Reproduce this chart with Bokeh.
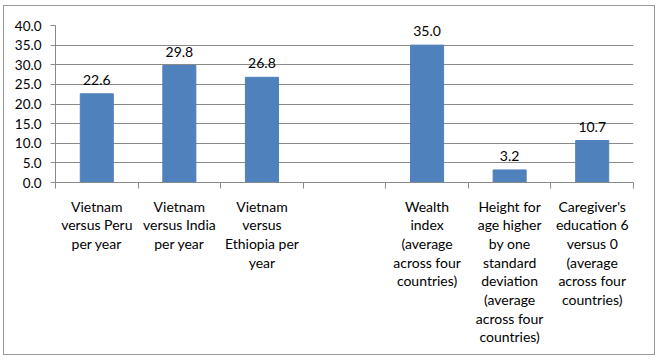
from bokeh.plotting import figure
from bokeh.models import Range1d, FixedTicker, NumeralTickFormatter, ColumnDataSource
from bokeh.embed import file_html
from bokeh.resources import INLINE
from bokeh.core.properties import value

categories = [
    "Vietnam\nversus Peru\nper year",
    "Vietnam\nversus India\nper year",
    "Vietnam\nversus\nEthiopia per\nyear",
    "",
    "Wealth\nindex\n(average\nacross four\ncountries)",
    "Height for\nage higher\nby one\nstandard\ndeviation\n(average\nacross four\ncountries)",
    "Caregiver's\neducation 6\nversus 0\n(average\nacross four\ncountries)",
]
values = [22.6, 29.8, 26.8, None, 35.0, 3.2, 10.7]
y_ticks = [0, 5, 10, 15, 20, 25, 30, 35, 40]

FONT = "Lato"
GRID = "#8a8a8a"
BAR = "#4F81BD"
TXT = "#000000"

centres = [i + 0.5 for i in range(len(categories))]
xs = [c for c, v in zip(centres, values) if v is not None]
tops = [v for v in values if v is not None]
labels = ["%.1f" % v for v in tops]
src = ColumnDataSource(dict(x=xs, top=tops, label=labels))

p = figure(frame_width=578, frame_height=157, output_backend="svg", toolbar_location=None,
           x_range=Range1d(0, len(categories)), y_range=Range1d(0, 40),
           min_border_left=51, min_border_right=21, min_border_top=19, min_border_bottom=172)
p.styles = {"border": "1px solid #9a9a9a", "margin-left": "3px", "margin-top": "5px"}
p.outline_line_color = None
p.background_fill_color = "white"
p.border_fill_color = "white"

p.vbar(x="x", top="top", width=0.4, source=src, fill_color=BAR, line_color=BAR)
p.text(x="x", y="top", text="label", source=src, text_align="center", text_baseline="bottom",
       y_offset=-9, text_font=value(FONT), text_font_size="14px", text_color=TXT)

# x axis
xa = p.xaxis[0]
xa.ticker = FixedTicker(ticks=centres, minor_ticks=list(range(len(categories) + 1)))
xa.major_label_overrides = {c: lab for c, lab in zip(centres, categories)}
xa.major_tick_line_color = None
xa.major_tick_out = 0
xa.major_tick_in = 0
xa.minor_tick_line_color = GRID
xa.minor_tick_out = 6
xa.minor_tick_in = 0
xa.axis_line_color = GRID
xa.major_label_text_font = FONT
xa.major_label_text_font_size = "14px"
xa.major_label_text_color = TXT
xa.major_label_text_line_height = 1.1
xa.major_label_standoff = 9
xa.major_label_orientation = "horizontal"

ya = p.yaxis[0]
ya.ticker = FixedTicker(ticks=y_ticks)
ya.formatter = NumeralTickFormatter(format="0.0")
ya.major_tick_line_color = GRID
ya.major_tick_out = 5
ya.major_tick_in = 0
ya.minor_tick_line_color = None
ya.axis_line_color = GRID
ya.major_label_text_font = FONT
ya.major_label_text_font_size = "13.5px"
ya.major_label_text_color = TXT
ya.major_label_standoff = 9

p.xgrid.grid_line_color = None
p.ygrid.grid_line_color = GRID
p.ygrid.ticker = FixedTicker(ticks=y_ticks)

open("out.html", "w").write(file_html(p, INLINE))
